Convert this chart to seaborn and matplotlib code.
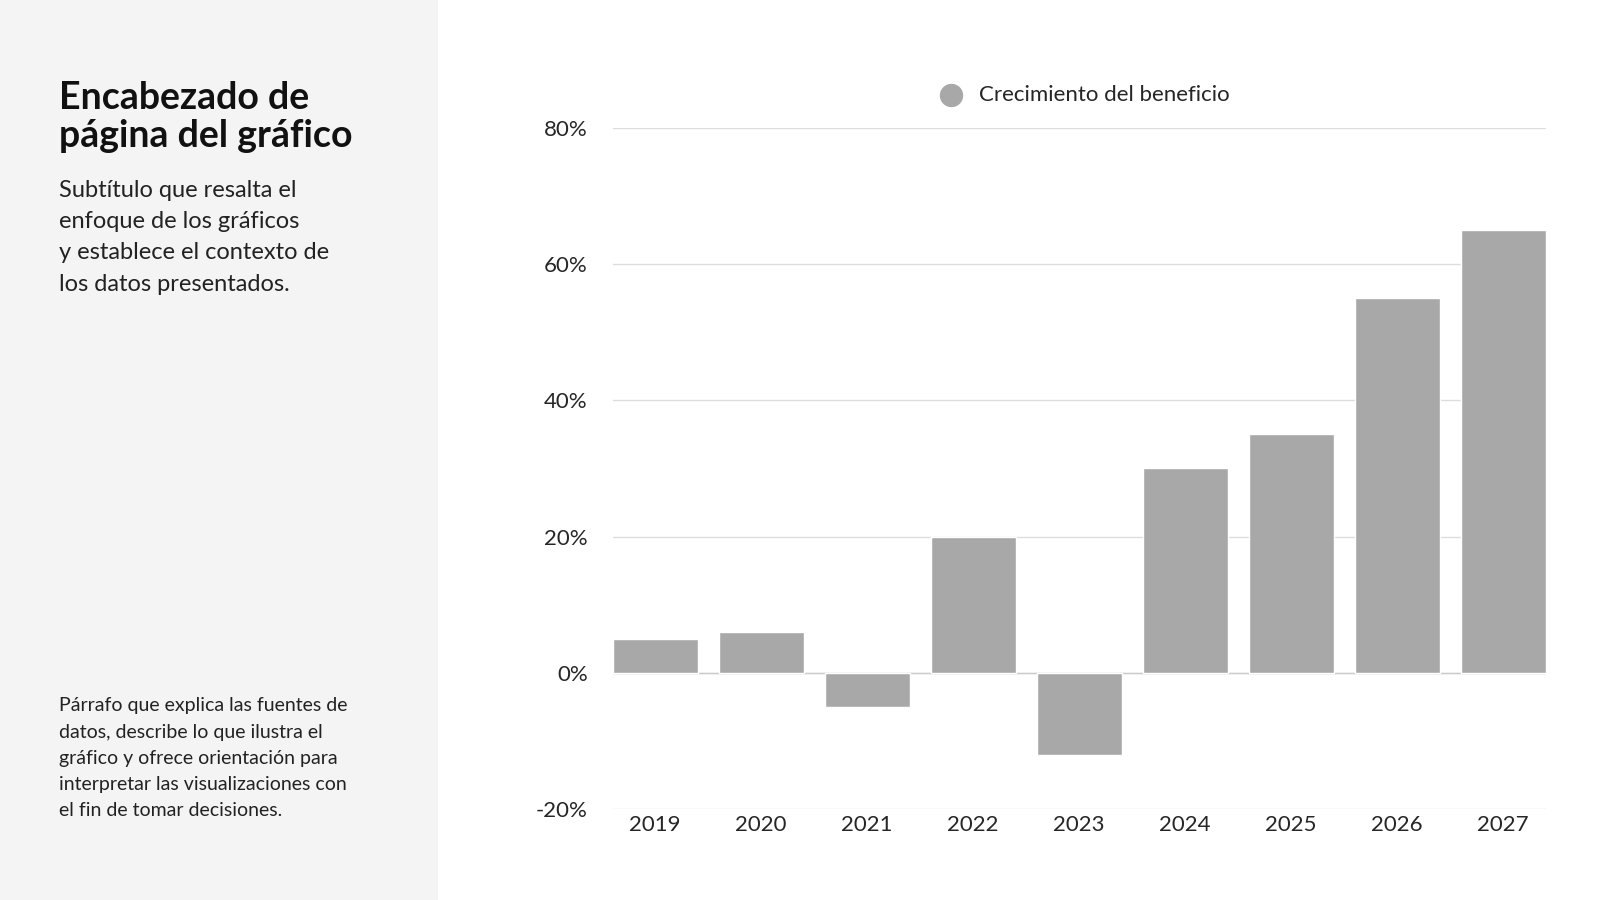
import pandas as pd
import matplotlib.pyplot as plt
import seaborn as sns


def load_data():
    # Values (profit growth, %)
    df = pd.DataFrame({
        'year': ['2019', '2020', '2021', '2022', '2023', '2024', '2025', '2026', '2027'],
        'growth': [5, 6, -5, 20, -12, 30, 35, 55, 65],
    })
    return df


def generate_visualization(df):
    sns.set_theme(style='white')
    plt.rcParams['font.family'] = ['Lato', 'DejaVu Sans']

    fig = plt.figure(figsize=(16, 9), dpi=100)

    # Left side panel
    fig.patches.append(plt.Rectangle((0, 0), 0.274, 1, transform=fig.transFigure,
                                     facecolor='#f4f4f4', edgecolor='none', zorder=0))
    fig.text(0.037, 0.91, 'Encabezado de\npágina del gráfico', fontsize=27, fontweight='bold',
             va='top', ha='left', linespacing=1.15, color='#111111')
    fig.text(0.037, 0.80, 'Subtítulo que resalta el\nenfoque de los gráficos\ny establece el contexto de\nlos datos presentados.',
             fontsize=17, va='top', ha='left', linespacing=1.6, color='#222222')
    fig.text(0.037, 0.225, 'Párrafo que explica las fuentes de\ndatos, describe lo que ilustra el\ngráfico y ofrece orientación para\ninterpretar las visualizaciones con\nel fin de tomar decisiones.',
             fontsize=14, va='top', ha='left', linespacing=1.65, color='#222222')

    ax = fig.add_axes([0.383, 0.101, 0.583, 0.757])
    sns.barplot(x='year', y='growth', data=df, color='#a8a8a8', saturation=1, width=0.8, ax=ax, zorder=3)

    ax.set_ylim(-20, 80)
    ax.set_xlim(-0.4, 8.4)
    ax.set_yticks([-20, 0, 20, 40, 60, 80])
    ax.set_yticklabels([f'{v}%' for v in [-20, 0, 20, 40, 60, 80]], fontsize=16)
    ax.tick_params(axis='x', labelsize=16, length=0, pad=4)
    ax.tick_params(axis='y', length=0, pad=18)
    ax.grid(axis='y', color='#dddddd', linewidth=1, zorder=0)
    ax.axhline(0, color='#cccccc', linewidth=1, zorder=2)
    ax.set_xlabel('')
    ax.set_ylabel('')
    sns.despine(ax=ax, left=True, bottom=True)

    # Legend above the axes
    ax.scatter([], [], s=250, color='#a8a8a8', label='Crecimiento del beneficio')
    ax.legend(loc='lower center', bbox_to_anchor=(0.5, 1.02), frameon=False, fontsize=16,
              handletextpad=0.3, borderaxespad=0)

    plt.savefig('out.png', dpi=100)
    plt.close()


if __name__ == "__main__":
    df = load_data()
    generate_visualization(df)
